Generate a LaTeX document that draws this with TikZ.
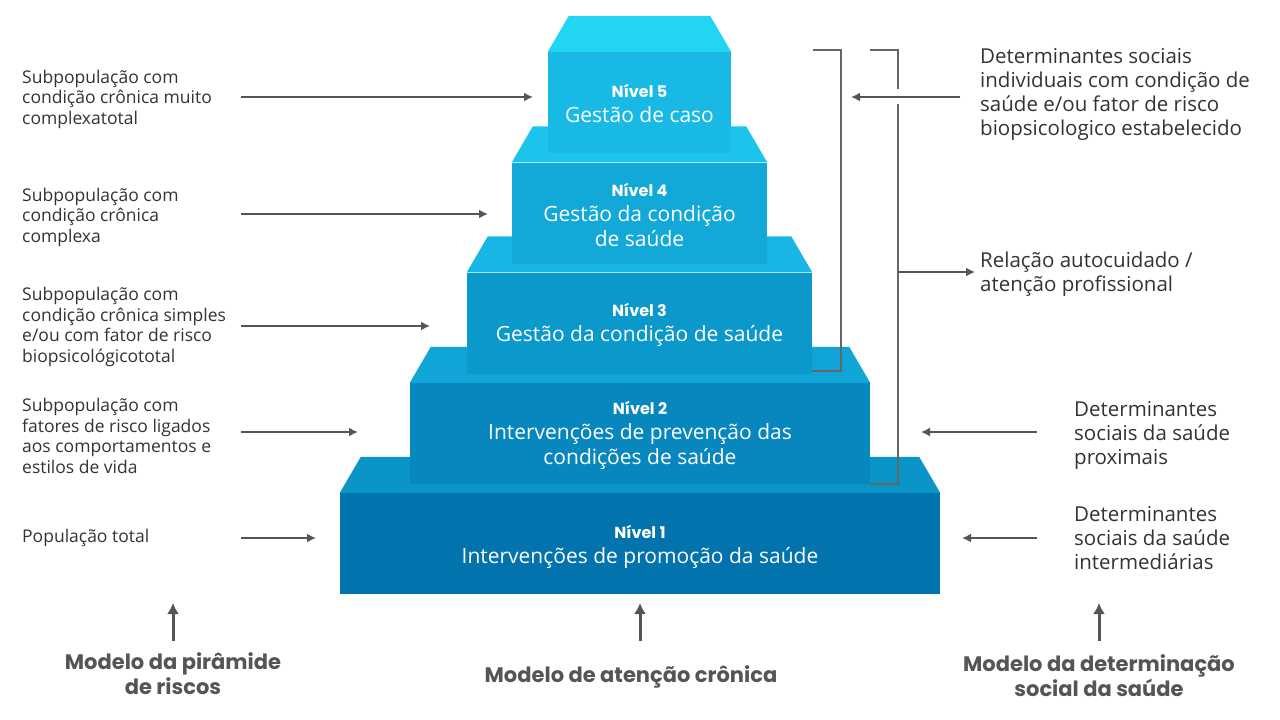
\documentclass[tikz,border=0pt]{standalone}
\usepackage{fontspec}
\setmainfont{Open Sans}
\newfontfamily\headfont{Poppins}
\usetikzlibrary{arrows.meta,positioning}

\definecolor{lvafront}{HTML}{0373AD}
\definecolor{lvatop}{HTML}{0A95C8}
\definecolor{lvbfront}{HTML}{0787BD}
\definecolor{lvbtop}{HTML}{10A5D6}
\definecolor{lvcfront}{HTML}{0B98CB}
\definecolor{lvctop}{HTML}{17B6E4}
\definecolor{lvdfront}{HTML}{12A8D8}
\definecolor{lvdtop}{HTML}{1CC4EB}
\definecolor{lvefront}{HTML}{18B9E4}
\definecolor{lvetop}{HTML}{21D5F3}
\definecolor{textgray}{HTML}{333333}
\definecolor{arrowgray}{HTML}{555555}
\definecolor{brackgray}{HTML}{666666}

\newcommand\topface[2]{\fill[#2] (#1.north west) -- ++(21,-36) -- ([shift={(-21,-36)}]#1.north east) -- (#1.north east) -- cycle;}
\newcommand\nivel{\headfont\bfseries\fontsize{16}{18}\selectfont}

\begin{document}
\begin{tikzpicture}[x=1pt,y=-1pt,
  front/.style={minimum height=101pt, inner sep=0pt},
  lvtext/.style={inner sep=0pt, align=center, text=white, font=\fontsize{21}{25}\selectfont},
  lbl/.style={align=left, anchor=west, inner sep=0pt, text=textgray, font=\fontsize{17.5}{20.5}\selectfont},
  rlbl/.style={align=left, anchor=west, inner sep=0pt, text=textgray, font=\fontsize{20.5}{24}\selectfont},
  model/.style={align=center, inner sep=0pt, text=arrowgray, font=\headfont\bfseries\fontsize{21}{25}\selectfont},
  arr/.style={draw=arrowgray, line width=2pt, -{Latex[length=9pt,width=9pt]}},
  uparr/.style={draw=arrowgray, line width=3pt, -{Latex[length=11pt,width=12pt]}},
  brack/.style={draw=brackgray, line width=2.5pt}]
\useasboundingbox[fill=white] (0,0) rectangle (1280,720);

% pyramid, from the bottom up
\node[front, fill=lvafront, minimum width=600pt] (lv1) at (640,543.5) {};
\topface{lv1}{lvatop}
\node[lvtext] (t1) at ([yshift=-3pt]lv1.center) {{\nivel Nível 1}\\Intervenções de promoção da saúde};
\node[front, fill=lvbfront, minimum width=460pt] (lv2) at (640,433.5) {};
\topface{lv2}{lvbtop}
\node[lvtext] (t2) at ([yshift=-2pt]lv2.center) {{\nivel Nível 2}\\Intervenções de prevenção das\\condições de saúde};
\node[front, fill=lvcfront, minimum width=345pt] (lv3) at (639.5,323) {};
\topface{lv3}{lvctop}
\node[lvtext] (t3) at ([yshift=-2pt]lv3.center) {{\nivel Nível 3}\\Gestão da condição de saúde};
\node[front, fill=lvdfront, minimum width=255pt] (lv4) at (639.5,213) {};
\topface{lv4}{lvdtop}
\node[lvtext] (t4) at ([yshift=-2pt]lv4.center) {{\nivel Nível 4}\\Gestão da condição\\de saúde};
\node[front, fill=lvefront, minimum width=183pt] (lv5) at (639.5,102.5) {};
\topface{lv5}{lvetop}
\node[lvtext] (t5) at ([yshift=-1pt]lv5.center) {{\nivel Nível 5}\\Gestão de caso};

% left side
\node[lbl] (p5) at (22,99) {Subpopulação com\\condição crônica muito\\complexatotal};
\node[lbl] (p4) at (22,217) {Subpopulação com\\condição crônica\\complexa};
\node[lbl] (p3) at (22,327) {Subpopulação com\\condição crônica simples\\e/ou com fator de risco\\biopsicológicototal};
\node[lbl] (p2) at (22,436) {Subpopulação com\\fatores de risco ligados\\aos comportamentos e\\estilos de vida};
\node[lbl] (p1) at (22,538) {População total};
\foreach \n/\y/\e in {5/97/533, 4/214/488, 3/326/430, 2/432/358, 1/538/316} {
  \coordinate (a\n) at (241,\y);
  \coordinate (b\n) at (\e,\y);
  \draw[arr] (a\n) -- (b\n);
}

% right side
\node[rlbl] (d1) at (980,94) {Determinantes sociais\\individuais com condição de\\saúde e/ou fator de risco\\biopsicologico estabelecido};
\node[rlbl] (rel) at (980,274) {Relação autocuidado /\\atenção profissional};
\node[rlbl] (d2) at (1074,435) {Determinantes\\sociais da saúde\\proximais};
\node[rlbl] (d3) at (1074,538) {Determinantes\\sociais da saúde\\intermediárias};

% brackets
\coordinate (k1) at (813,50);
\coordinate (k2) at (841,371);
\coordinate (k3) at (812,371);
\draw[brack] (k1) -| (k2) -- (k3);
\coordinate (m1) at (870,50);
\coordinate (m2) at (898,89);
\coordinate (m3) at (898,104);
\coordinate (m4) at (898,484);
\coordinate (m5) at (870,484);
\draw[brack] (m1) -| (m2);
\draw[brack] (m3) -- (m4) -- (m5);
\coordinate (m6) at (898,272);
\coordinate (m7) at (975,272);
\draw[arr] (m6) -- (m7);
\foreach \n/\y/\s/\e in {1/97/960/851, 2/432/1037/921, 3/538/1037/962} {
  \coordinate (c\n) at (\s,\y);
  \coordinate (f\n) at (\e,\y);
  \draw[arr] (c\n) -- (f\n);
}

% the three models
\node[model] (mo1) at (173,674) {Modelo da pirâmide\\de riscos};
\node[model] (mo2) at (631,677) {Modelo de atenção crônica};
\node[model] (mo3) at (1099,676) {Modelo da determinação\\social da saúde};
\foreach \n/\x in {1/173, 2/640, 3/1099} {
  \coordinate (u\n) at (\x,641);
  \coordinate (v\n) at (\x,603);
  \draw[uparr] (u\n) -- (v\n);
}
\end{tikzpicture}
\end{document}
